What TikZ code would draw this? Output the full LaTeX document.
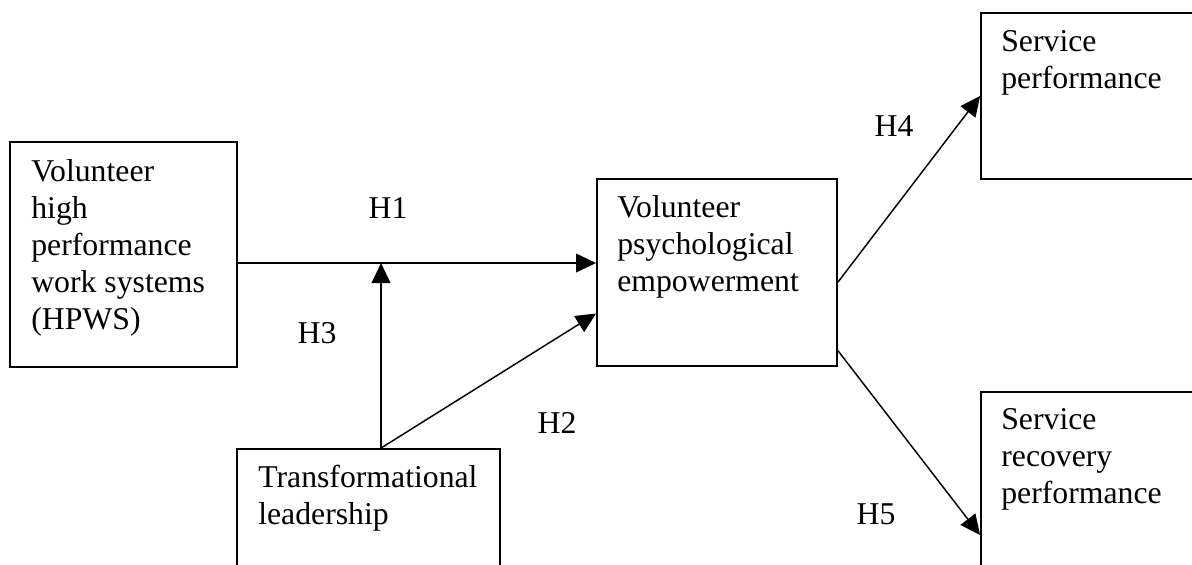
\documentclass[tikz,border=0pt]{standalone}
\usepackage{fontspec}
\setmainfont{Liberation Serif}
\usetikzlibrary{arrows.meta,calc}

\tikzset{
  box/.style={draw, rectangle, line width=1.4pt, inner sep=0pt},
  boxtext/.style={anchor=base west, inner sep=0pt, align=left,
    font=\fontsize{23.8}{27.75}\selectfont},
  hlabel/.style={inner sep=0pt, font=\fontsize{23.8}{27.75}\selectfont},
  arrowline/.style={line width=1.1pt, -{Triangle[length=15pt,width=14pt]}}
}

\begin{document}
\begin{tikzpicture}[x=0.75pt,y=0.75pt,yscale=-1,xscale=1]
    \useasboundingbox (0,0) rectangle (1192,564);
    \clip (0,0) rectangle (1192,564);

    % Boxes
    \node[box, minimum width=170.25pt, minimum height=168.75pt] (hpws) at (123.5,254.5) {};
    \node[box, minimum width=180pt, minimum height=140.25pt] (vpe) at (717,272.5) {};
    \node[box, minimum width=197.25pt, minimum height=112.5pt] (tl) at (368.5,524) {};
    \node[box, minimum width=180pt, minimum height=124.5pt] (sp) at (1101,96) {};
    \node[box, minimum width=180pt, minimum height=214.5pt] (srp) at (1101,535) {};

    % Box texts (base = last line)
    \node[boxtext] (hpwstext) at ([shift={(22,188)}]hpws.north west) {Volunteer\\high\\performance\\work systems\\(HPWS)};
    \node[boxtext] (vpetext) at ([shift={(21,113)}]vpe.north west) {Volunteer\\psychological\\empowerment};
    \node[boxtext] (tltext) at ([shift={(22,76)}]tl.north west) {Transformational\\leadership};
    \node[boxtext] (sptext) at ([shift={(21,76)}]sp.north west) {Service\\performance};
    \node[boxtext] (srptext) at ([shift={(21,112)}]srp.north west) {Service\\recovery\\performance};

    % Paths
    \coordinate (mod) at (381,263);
    \coordinate (tlfoot) at (tl.north -| mod);
    \draw[arrowline] (hpws.east |- mod) -- (vpe.west |- mod);
    \draw[arrowline] (tlfoot) -- (mod);
    \draw[arrowline] (tlfoot) -- ($(vpe.south west)!0.283!(vpe.north west)$);
    \draw[arrowline] ($(vpe.south east)!0.449!(vpe.north east)$) -- (sp.west);
    \draw[arrowline] ($(vpe.south east)!0.086!(vpe.north east)$) -- (srp.west);

    % Hypothesis labels
    \node[hlabel] (h1) at (388,208) {H1};
    \node[hlabel] (h2) at (557,423) {H2};
    \node[hlabel] (h3) at (317,333) {H3};
    \node[hlabel] (h4) at (894,126) {H4};
    \node[hlabel] (h5) at (876,514) {H5};

\end{tikzpicture}
\end{document}
